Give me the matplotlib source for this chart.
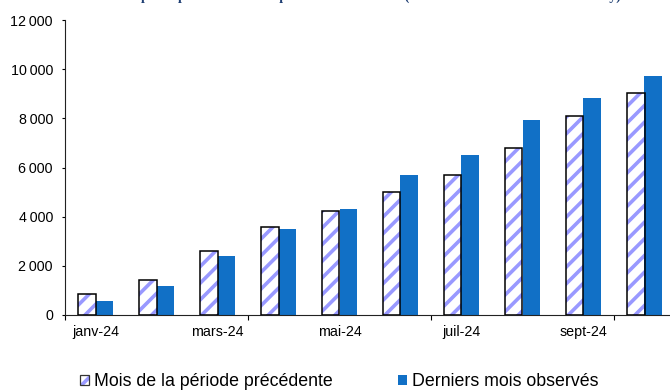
import matplotlib
matplotlib.use("Agg")
import matplotlib.pyplot as plt
from matplotlib.patches import Patch
from matplotlib.ticker import FuncFormatter
import numpy as np

months = ["janv-24", "févr-24", "mars-24", "avr-24", "mai-24",
          "juin-24", "juil-24", "août-24", "sept-24", "oct-24"]
prev_period = [850, 1420, 2600, 3570, 4250, 5010, 5700, 6800, 8110, 9020]
last_months = [570, 1180, 2410, 3480, 4330, 5680, 6500, 7930, 8820, 9740]

title = ("Évolution comparée par mois dans la période de référence "
         "(nombre de dossiers traités cumul y)")

plt.rcParams["font.family"] = ["Liberation Sans", "DejaVu Sans"]
plt.rcParams["hatch.linewidth"] = 2.6

HATCH = "#9999FF"
BLUE = "#1170C6"

fig = plt.figure(figsize=(6.7, 3.92), dpi=100)
ax = fig.add_axes([65 / 670, 77 / 392, 610 / 670, 295 / 392])

x = np.arange(len(months))
w = 0.287

# hatched bars: stripes first, black outline on top
ax.bar(x - w / 2, prev_period, w, facecolor="white", edgecolor=HATCH,
       hatch="//", linewidth=0, zorder=2)
ax.bar(x - w / 2, prev_period, w, facecolor="none", edgecolor="black",
       linewidth=1.1, zorder=3)
ax.bar(x + w / 2, last_months, w, color=BLUE, linewidth=0, zorder=2)

ax.set_xlim(-0.5, 9.5)
ax.set_ylim(0, 12000)
ax.set_yticks(range(0, 12001, 2000))
ax.yaxis.set_major_formatter(FuncFormatter(
    lambda v, p: f"{int(v):,}".replace(",", "\u2009")))

ax.set_xticks(x[::2])
ax.set_xticklabels(months[::2])
ax.set_xticks([-0.5, 2.5, 5.5, 8.5], minor=True)
ax.tick_params(axis="x", which="major", length=0, pad=7.5, labelsize=10.3)
ax.tick_params(axis="x", which="minor", length=3.5, width=0.8, direction="out")
ax.tick_params(axis="y", length=2.2, width=0.8, pad=6.5, labelsize=10.3)

for s in ["top", "right"]:
    ax.spines[s].set_visible(False)
for s in ["left", "bottom"]:
    ax.spines[s].set_linewidth(0.8)
    ax.spines[s].set_color("#222222")

fig.text(0.505, 1.0, title, ha="center", va="baseline",
         family="Liberation Serif", weight="bold", fontsize=10, color="#1F3F73")

h_prev = (Patch(facecolor="white", edgecolor=HATCH, hatch="//", linewidth=0),
          Patch(facecolor="none", edgecolor="#333333", linewidth=0.9))
h_last = Patch(facecolor=BLUE, edgecolor="none")
fig.legend([h_prev, h_last],
           ["Mois de la période précédente", "Derniers mois observés"],
           loc="center left", bbox_to_anchor=(80 / 670, 10 / 392), ncol=2,
           frameon=False, fontsize=12.8, handlelength=0.5, handleheight=0.5,
           handletextpad=0.28, columnspacing=3.7, borderpad=0, borderaxespad=0)

fig.savefig("out.png", dpi=100)
